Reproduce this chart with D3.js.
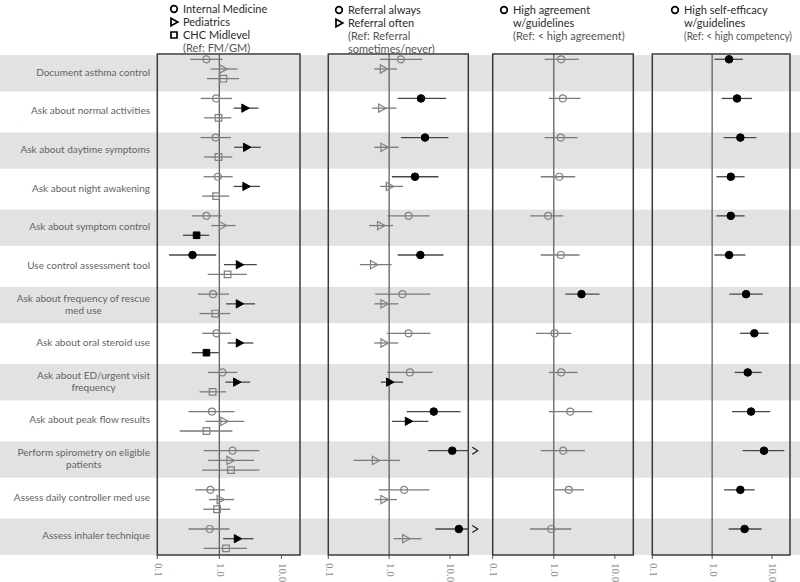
<!DOCTYPE html>
<html><head><meta charset="utf-8">
<script src="https://cdn.jsdelivr.net/npm/d3@7"></script>
<style>body{margin:0;background:#fff}svg{display:block}</style>
</head><body><svg id="c" width="800" height="582"></svg>
<script>
// ---------- DATA ----------
const categories = [
  "Document asthma control",
  "Ask about normal activities",
  "Ask about daytime symptoms",
  "Ask about night awakening",
  "Ask about symptom control",
  "Use control assessment tool",
  "Ask about frequency of rescue med use",
  "Ask about oral steroid use",
  "Ask about ED/urgent visit frequency",
  "Ask about peak flow results",
  "Perform spirometry on eligible patients",
  "Assess daily controller med use",
  "Assess inhaler technique"
];
const categoryLines = [
  ["Document asthma control"],
  ["Ask about normal activities"],
  ["Ask about daytime symptoms"],
  ["Ask about night awakening"],
  ["Ask about symptom control"],
  ["Use control assessment tool"],
  ["Ask about frequency of rescue", "med use"],
  ["Ask about oral steroid use"],
  ["Ask about ED/urgent visit", "frequency"],
  ["Ask about peak flow results"],
  ["Perform spirometry on eligible", "patients"],
  ["Assess daily controller med use"],
  ["Assess inhaler technique"]
];
const tickValues = [0.1, 1, 10];
const tickLabels = ["0.1", "1.0", "10.0"];

// Panel 1: provider type (Ref: FM/GM)   [odds ratio, lower CI, upper CI]
const internalMedicine = [[0.62,0.34,1.13],[0.89,0.50,1.60],[0.87,0.50,1.54],[0.95,0.56,1.64],[0.62,0.36,1.08],[0.37,0.155,0.89],[0.79,0.45,1.43],[0.90,0.53,1.54],[1.13,0.66,1.95],[0.76,0.32,1.76],[1.64,0.56,4.43],[0.72,0.41,1.22],[0.70,0.32,1.46]];
const internalMedicineSig = [0,0,0,0,0,1,0,0,0,0,0,0,0];
const pediatrics = [[1.15,0.72,1.97],[2.61,1.70,4.27],[2.78,1.74,4.67],[2.71,1.70,4.55],[1.13,0.74,1.83],[2.12,1.19,4.02],[2.12,1.29,3.78],[2.12,1.36,3.55],[1.92,1.25,3.14],[1.20,0.60,2.52],[1.50,0.66,3.64],[1.04,0.68,1.74],[1.97,1.15,3.55]];
const pediatricsSig = [0,1,1,1,0,1,1,1,1,0,0,0,1];
const chcMidlevel = [[1.16,0.63,2.09],[0.97,0.57,1.56],[0.97,0.57,1.62],[0.89,0.53,1.45],[0.43,0.26,0.69],[1.36,0.65,2.78],[0.86,0.48,1.50],[0.62,0.36,0.98],[0.78,0.48,1.28],[0.62,0.23,1.62],[1.54,0.53,4.43],[0.92,0.55,1.50],[1.28,0.56,2.78]];
const chcMidlevelSig = [0,0,0,0,1,0,0,1,0,0,0,0,0];

// Panel 2: referral (Ref: sometimes/never)
const referralAlways = [[1.56,0.71,3.47],[3.34,1.38,8.66],[3.89,1.56,9.44],[2.66,1.11,6.45],[2.09,0.94,4.65],[3.26,1.38,7.80],[1.66,0.59,4.76],[2.09,0.91,4.76],[2.20,0.92,5.20],[5.41,1.94,14.9],[10.9,4.41,40],[1.77,0.67,4.58],[14.0,5.76,60]];
const referralAlwaysSig = [0,1,1,1,0,1,0,0,0,1,1,0,1];
const referralOften = [[0.81,0.57,1.34],[0.76,0.52,1.31],[0.83,0.57,1.43],[1.02,0.71,1.69],[0.73,0.47,1.16],[0.56,0.33,1.10],[0.83,0.57,1.41],[0.83,0.57,1.41],[1.03,0.73,1.69],[2.09,1.11,4.41],[0.60,0.26,1.50],[0.83,0.58,1.34],[1.89,1.18,3.43]];
const referralOftenSig = [0,0,0,0,0,0,0,0,1,1,0,0,0];

// Panel 3: high agreement with guidelines
const highAgreement = [[1.32,0.71,2.57],[1.41,0.83,2.74],[1.30,0.71,2.45],[1.23,0.61,2.24],[0.81,0.41,1.43],[1.30,0.61,2.64],[2.84,1.55,5.60],[1.03,0.51,1.93],[1.32,0.83,2.45],[1.86,0.83,4.26],[1.43,0.61,3.22],[1.76,1.03,3.10],[0.91,0.41,1.93]];
const highAgreementSig = [0,0,0,0,0,0,1,0,0,0,0,0,0];

// Panel 4: high self-efficacy with guidelines
const highSelfEfficacy = [[1.92,1.09,3.24],[2.61,1.45,4.64],[2.96,1.56,5.47],[2.05,1.18,3.49],[2.05,1.18,3.49],[1.92,1.09,3.60],[3.69,1.94,6.98],[5.07,2.93,8.79],[3.93,2.38,6.70],[4.47,2.15,9.36],[7.36,3.24,16.1],[2.96,1.58,5.13],[3.49,1.89,6.70]];
const highSelfEfficacySig = [1,1,1,1,1,1,1,1,1,1,1,1,1];

// ---------- LAYOUT ----------
const svg = d3.select("#c");
const W = 800, plotTop = 54, plotBottom = 555;
const stripeScale = d3.scaleBand().domain(categories).range([54, 556]).paddingInner(0.06).paddingOuter(0.03);
const rowScale = d3.scalePoint().domain(categories).range([69, 538.7]);
const slotOffset = [-9.7, 0, 9.7];

const panels = [
  {x0:157.3, x1:300, lx:174, legend:[
     {shape:"circle", y:9, text:"Internal Medicine"},
     {shape:"triangle", y:22, text:"Pediatrics"},
     {shape:"square", y:35, text:"CHC Midlevel"},
     {shape:null, y:48, text:"(Ref: FM/GM)", ref:true}],
   series:[
     {shape:"circle", slot:0, data:internalMedicine, sig:internalMedicineSig},
     {shape:"triangle", slot:1, data:pediatrics, sig:pediatricsSig},
     {shape:"square", slot:2, data:chcMidlevel, sig:chcMidlevelSig}]},
  {x0:328.3, x1:468.3, lx:339, legend:[
     {shape:"circle", y:10, text:"Referral always"},
     {shape:"triangle", y:23, text:"Referral often"},
     {shape:null, y:36, text:"(Ref: Referral", ref:true},
     {shape:null, y:49, text:"sometimes/never)", ref:true}],
   series:[
     {shape:"circle", slot:0, data:referralAlways, sig:referralAlwaysSig},
     {shape:"triangle", slot:1, data:referralOften, sig:referralOftenSig}]},
  {x0:492.7, x1:633.3, lx:504, legend:[
     {shape:"circle", y:10, text:"High agreement"},
     {shape:null, y:23, text:"w/guidelines"},
     {shape:null, y:36, text:"(Ref: < high agreement)", ref:true}],
   series:[{shape:"circle", slot:0, data:highAgreement, sig:highAgreementSig}]},
  {x0:652.3, x1:790, lx:675, legend:[
     {shape:"circle", y:10, text:"High self-efficacy"},
     {shape:null, y:23, text:"w/guidelines"},
     {shape:null, y:36, text:"(Ref: < high competency)", ref:true}],
   series:[{shape:"circle", slot:0, data:highSelfEfficacy, sig:highSelfEfficacySig}]}
];

function shapePath(shape, x, y, s) {
  if (shape === "circle") { const p = d3.path(); p.arc(x, y, s, 0, 2 * Math.PI); p.closePath(); return p.toString(); }
  if (shape === "triangle") return `M${x-s},${y-s*1.25}L${x+s*1.25},${y}L${x-s},${y+s*1.25}Z`;
  if (shape === "square") return `M${x-s},${y-s}H${x+s}V${y+s}H${x-s}Z`;
}

// stripes
svg.append("g").selectAll("rect").data(categories.filter((d, i) => i % 2 === 0)).join("rect")
  .attr("x", 0).attr("width", W)
  .attr("y", d => stripeScale(d)).attr("height", stripeScale.bandwidth())
  .attr("fill", "#e2e2e2");

// row labels
const labG = svg.append("g").attr("font-family", "Lato, 'Open Sans', sans-serif").attr("font-size", "10px").attr("fill", "#636363");
categories.forEach((c, i) => {
  const lines = categoryLines[i];
  const cy = stripeScale(c) + stripeScale.bandwidth() / 2;
  const lh = 12;
  const t = labG.append("text");
  const spans = lines.map((ln, j) => t.append("tspan").text(ln)
      .attr("y", cy + (j - (lines.length - 1) / 2) * lh).attr("dominant-baseline", "middle"));
  const widths = spans.map(s => s.node().getComputedTextLength());
  const maxW = d3.max(widths);
  const center = 150 - maxW / 2;
  spans.forEach(s => s.attr("x", center).attr("text-anchor", "middle"));
});

// panels
panels.forEach(p => {
  const x = d3.scaleLog().domain([0.1, 20]).range([p.x0, p.x1]);
  const g = svg.append("g");
  g.append("line").attr("x1", x(1)).attr("x2", x(1)).attr("y1", plotTop).attr("y2", plotBottom)
    .attr("stroke", "#555").attr("stroke-width", 1.2);
  g.selectAll(".tk").data(tickValues).join("line")
    .attr("x1", d => x(d)).attr("x2", d => x(d)).attr("y1", plotBottom).attr("y2", plotBottom + 4)
    .attr("stroke", "#555").attr("stroke-width", 1);
  g.selectAll(".tl").data(tickValues).join("text")
    .attr("transform", d => `translate(${x(d)},${plotBottom + 8}) rotate(90)`)
    .attr("font-family", "'Liberation Serif', 'DejaVu Serif', serif").attr("font-size", "11px")
    .attr("fill", "#8a8a8a").attr("dominant-baseline", "middle")
    .text((d, i) => tickLabels[i]);
  p.series.forEach(s => {
    const [dmin, dmax] = x.domain();
    s.data.forEach((d, i) => {
      const y = rowScale(categories[i]) + slotOffset[s.slot];
      const filled = s.sig[i] === 1;
      const lo = Math.max(d[1], dmin), hi = Math.min(d[2], dmax);
      g.append("line").attr("x1", x(lo)).attr("x2", x(hi)).attr("y1", y).attr("y2", y)
        .attr("stroke", filled ? "#474747" : "#7a7a7a").attr("stroke-width", 1.3);
      if (d[2] > dmax) {
        const ax = x(dmax) + 4;
        g.append("path").attr("d", `M${ax},${y-3.5}L${ax+5.5},${y}L${ax},${y+3.5}`)
          .attr("fill", "none").attr("stroke", "#111").attr("stroke-width", 1.1);
      }
      const sz = s.shape === "circle" ? (filled ? 3.8 : 3.5) : 3.3;
      g.append("path").attr("d", shapePath(s.shape, x(d[0]), y, sz))
        .attr("fill", filled ? "#000" : "none")
        .attr("stroke", filled ? "#000" : "#808080").attr("stroke-width", filled ? 1 : 1.2);
    });
  });
  g.append("rect").attr("x", p.x0).attr("y", plotTop).attr("width", p.x1 - p.x0).attr("height", plotBottom - plotTop)
    .attr("fill", "none").attr("stroke", "#3a3a3a").attr("stroke-width", 1.5);
  const lg = svg.append("g").attr("font-family", "Lato, 'Open Sans', sans-serif").attr("font-size", "11px");
  p.legend.forEach(l => {
    if (l.shape) {
      lg.append("path").attr("d", shapePath(l.shape, p.lx, l.y, l.shape === "circle" ? 3.3 : 3))
        .attr("fill", "#fff").attr("stroke", "#000").attr("stroke-width", 1.7);
    }
    const t = lg.append("text").attr("x", p.lx + 9).attr("y", l.y + 1).attr("dominant-baseline", "middle")
      .attr("fill", l.ref ? "#555" : "#2a2a2a").text(l.text);
    const avail = W - (p.lx + 9) - 8;
    if (t.node().getComputedTextLength() > avail) {
      t.attr("font-size", "10.5px").attr("textLength", avail).attr("lengthAdjust", "spacingAndGlyphs");
    }
  });
});
</script>
</body></html>
